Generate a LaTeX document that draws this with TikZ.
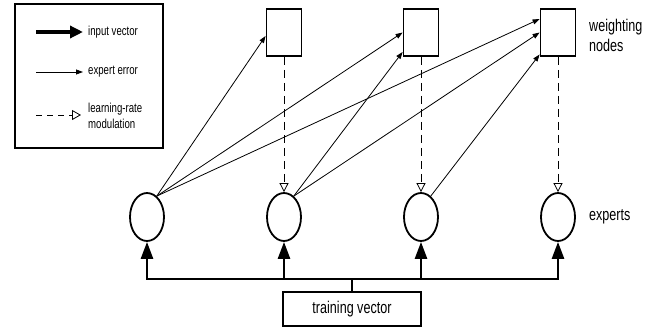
\documentclass[tikz,border=0pt]{standalone}
\usepackage{fontspec}
\setmainfont{Liberation Sans}
\newfontfamily\narrowsf[FakeStretch=0.74]{Liberation Sans}
\usetikzlibrary{arrows.meta,positioning,shapes.geometric}

\begin{document}
\begin{tikzpicture}[x=1bp,y=1bp,
        expert/.style={draw,ellipse,line width=1.8bp,minimum width=34bp,minimum height=48bp,inner sep=0pt},
        weight/.style={draw,rectangle,line width=1.8bp,minimum width=35bp,minimum height=47bp,inner sep=0pt},
        sidetext/.style={font=\narrowsf\fontsize{17bp}{20bp}\selectfont,align=left,anchor=west,inner sep=0pt},
        keytext/.style={font=\narrowsf\fontsize{13bp}{16bp}\selectfont,align=left,anchor=west,inner sep=0pt},
        inputarrow/.style={line width=2.6bp,-{Triangle[length=17bp,width=12bp]}},
        errorarrow/.style={line width=0.8bp,-{Triangle[length=7bp,width=5bp]}},
        ratearrow/.style={line width=0.8bp,dash pattern=on 8bp off 5bp,-{Triangle[open,length=9bp,width=9bp]}}]
        \useasboundingbox (0,0) rectangle (667,330);

        % legend
        \draw[line width=1.3bp] (15,182) rectangle (163,326);
        \coordinate (k1a) at (36,298);
        \coordinate (k1b) at (83,298);
        \coordinate (k2a) at (36,258);
        \coordinate (k2b) at (83,258);
        \coordinate (k3a) at (36,215);
        \coordinate (k3b) at (81,215);
        \draw[line width=3.3bp,-{Triangle[length=13bp,width=12bp]}] (k1a)--(k1b);
        \draw[errorarrow] (k2a)--(k2b);
        \draw[ratearrow,dash pattern=on 6bp off 5bp,-{Triangle[open,length=9bp,width=10bp]}] (k3a)--(k3b);
        \node[keytext] (k1) at (88,298) {input vector};
        \node[keytext] (k2) at (88,258) {expert error};
        \node[keytext] (k3) at (88,214) {learning-rate\\modulation};

        % experts and weighting nodes
        \foreach \i in {1,...,4}
            \node[expert] (e\i) at (10+137*\i,113) {};
        \foreach \i in {1,2,3}
            \node[weight] (w\i) at (147+137*\i,297.5) {};
        \node[sidetext] (wl) at (589,295) {weighting\\nodes};
        \node[sidetext] (el) at (589,113) {experts};

        % expert error
        \draw[errorarrow] (e1.65)--([yshift=-3.5bp]w1.west);
        \draw[errorarrow] (e1.65)--(w2.west);
        \draw[errorarrow] (e1.65)--([yshift=13.5bp]w3.west);
        \draw[errorarrow] (e2.65)--([yshift=-19.5bp]w2.west);
        \draw[errorarrow] (e2.65)--(w3.west);
        \draw[errorarrow] (e3.65)--([yshift=-22bp]w3.west);

        % learning-rate modulation
        \foreach \i/\j in {1/2,2/3,3/4}
            \draw[ratearrow] (w\i.south)--(e\j.north);

        % training vector
        \node[draw,line width=2.2bp,minimum width=138bp,minimum height=34bp,
            font=\narrowsf\fontsize{17bp}{20bp}\selectfont] (tv) at (352,21) {training vector};
        \coordinate (bus) at (352,51);
        \draw[line width=2.6bp] (tv.north)--(bus);
        \draw[inputarrow] (bus) -| (e1);
        \draw[inputarrow] (bus) -| (e4);
        \draw[inputarrow] (bus -| e2)--(e2);
        \draw[inputarrow] (bus -| e3)--(e3);
    \end{tikzpicture}
\end{document}
